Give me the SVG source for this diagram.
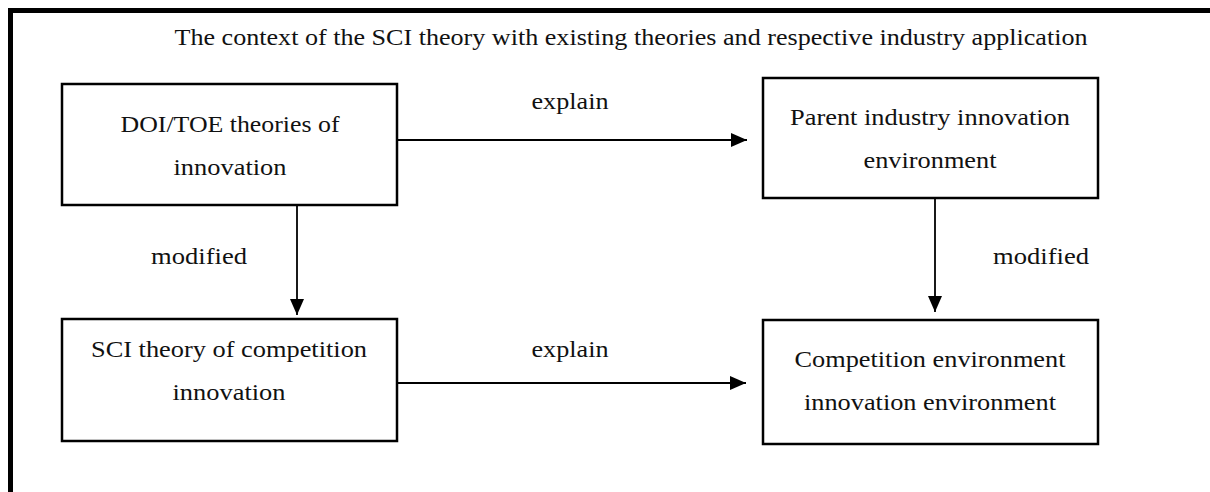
<svg xmlns="http://www.w3.org/2000/svg" width="1210" height="492" viewBox="0 0 1210 492">
<defs>
<style>
text{font-family:"Liberation Serif","DejaVu Serif",serif;font-size:24px;fill:#111;text-anchor:middle}
.title{font-size:23px}
.box{fill:#fff;stroke:#000;stroke-width:2.5}
.conn{stroke:#000;stroke-width:1.8;fill:none}
</style>
<marker id="ah" markerWidth="16" markerHeight="14" refX="16" refY="7" orient="auto" markerUnits="userSpaceOnUse">
<path d="M0,0 L16,7 L0,14 Z" fill="#000"/>
</marker>
</defs>
<rect width="1210" height="492" fill="#fff"/>
<g id="frame">
<path d="M10.5,492 V10.5 H1210" fill="none" stroke="#000" stroke-width="5"/>
</g>
<text class="title" x="631" y="45" textLength="913" lengthAdjust="spacingAndGlyphs">The context of the SCI theory with existing theories and respective industry application</text>
<g id="connectors">
<line class="conn" x1="397" y1="140" x2="747" y2="140" marker-end="url(#ah)"/>
<line class="conn" x1="397" y1="383" x2="746" y2="383" marker-end="url(#ah)"/>
<line class="conn" x1="297" y1="205" x2="297" y2="315" marker-end="url(#ah)"/>
<line class="conn" x1="935" y1="198" x2="935" y2="312" marker-end="url(#ah)"/>
<text x="570" y="109" textLength="77" lengthAdjust="spacingAndGlyphs">explain</text>
<text x="570" y="357" textLength="77" lengthAdjust="spacingAndGlyphs">explain</text>
<text x="199" y="264" textLength="96" lengthAdjust="spacingAndGlyphs">modified</text>
<text x="1041" y="264" textLength="96" lengthAdjust="spacingAndGlyphs">modified</text>
</g>
<g id="node-doi">
<rect class="box" x="62" y="84" width="335" height="121"/>
<text x="230" y="132" textLength="219" lengthAdjust="spacingAndGlyphs">DOI/TOE theories of</text>
<text x="230" y="175" textLength="113" lengthAdjust="spacingAndGlyphs">innovation</text>
</g>
<g id="node-parent">
<rect class="box" x="763" y="78" width="335" height="120"/>
<text x="930" y="125" textLength="280" lengthAdjust="spacingAndGlyphs">Parent industry innovation</text>
<text x="930" y="168" textLength="133" lengthAdjust="spacingAndGlyphs">environment</text>
</g>
<g id="node-sci">
<rect class="box" x="62" y="319" width="335" height="122"/>
<text x="229" y="357" textLength="276" lengthAdjust="spacingAndGlyphs">SCI theory of competition</text>
<text x="229" y="400" textLength="113" lengthAdjust="spacingAndGlyphs">innovation</text>
</g>
<g id="node-competition">
<rect class="box" x="763" y="320" width="335" height="124"/>
<text x="930" y="367" textLength="271" lengthAdjust="spacingAndGlyphs">Competition environment</text>
<text x="930" y="410" textLength="252" lengthAdjust="spacingAndGlyphs">innovation environment</text>
</g>
</svg>
